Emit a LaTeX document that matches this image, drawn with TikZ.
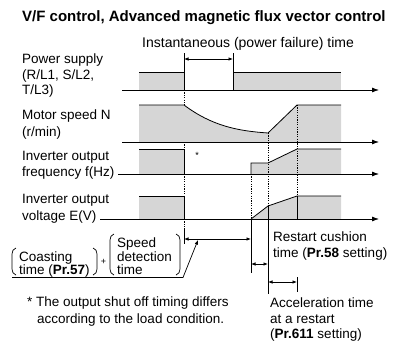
\documentclass[tikz,border=0pt]{standalone}
\usepackage{fontspec}
\setmainfont{Liberation Sans}
\usetikzlibrary{arrows.meta}
\definecolor{fillg}{HTML}{D6D6D6}
\begin{document}
\begin{tikzpicture}[x=1pt,y=-1pt,
  lbl/.style={anchor=base west,inner sep=0pt,font=\fontsize{13.5}{15}\selectfont},
  ttl/.style={anchor=base west,inner sep=0pt,font=\fontsize{15}{17}\selectfont\bfseries},
  sig/.style={fill=fillg,draw=none},
  edge/.style={draw=black,line width=0.8pt},
  dotl/.style={draw=black,line width=0.6pt,dash pattern=on 1.2pt off 1.2pt},
  axis/.style={draw=black,line width=0.8pt,-{Latex[length=7pt,width=5pt]}},
  dim/.style={draw=black,line width=0.7pt,{Latex[length=4.5pt,width=3.5pt]}-{Latex[length=4.5pt,width=3.5pt]}},
  thin/.style={draw=black,line width=0.7pt},
  paren/.style={draw=black,line width=0.7pt}]
\useasboundingbox (0,0) rectangle (393,343);

% title and labels
\node[ttl] (title) at (22,21) {V/F control, Advanced magnetic flux vector control};
\node[lbl,font=\fontsize{14}{15}\selectfont] (inst) at (142,47) {Instantaneous (power failure) time};
\node[lbl] (ps1) at (22,63) {Power supply};
\node[lbl] (ps2) at (22,79) {(R/L1, S/L2,};
\node[lbl] (ps3) at (22,94) {T/L3)};
\node[lbl] (ms1) at (22,119) {Motor speed N};
\node[lbl] (ms2) at (22,136.5) {(r/min)};
\node[lbl] (fr1) at (22,160) {Inverter output};
\node[lbl] (fr2) at (22,176) {frequency f(Hz)};
\node[lbl] (vo1) at (22,203) {Inverter output};
\node[lbl] (vo2) at (22,220.5) {voltage E(V)};

% coordinates
\coordinate (ax1s) at (122,90);  \coordinate (ax1e) at (379,90);
\coordinate (ax2s) at (122,142); \coordinate (ax2e) at (379,142);
\coordinate (ax3s) at (118,174); \coordinate (ax3e) at (379,174);
\coordinate (ax4s) at (100,219); \coordinate (ax4e) at (379,219);

% power supply
\fill[sig] (139,72) rectangle (184,90);
\fill[sig] (233,72) rectangle (341,90);
\draw[edge] (139,72) -- (184,72) -- (184,90);
\draw[edge] (233,90) -- (233,72) -- (341,72);
\draw[thin] (184,53) -- (184,72);
\draw[thin] (233,53) -- (233,72);
\coordinate (pfa) at (184,59); \coordinate (pfb) at (233,59);
\draw[dim] (pfa) -- (pfb);

% motor speed
\fill[sig] (139,142) -- (139,105) -- (184,105)
  .. controls (212,126) and (238,131) .. (268,133) -- (297,105) -- (341,105) -- (341,142) -- cycle;
\draw[edge] (139,105) -- (184,105)
  .. controls (212,126) and (238,131) .. (268,133) -- (297,105) -- (341,105);

% frequency
\fill[sig] (139,149) rectangle (184,174);
\fill[sig] (251,174) -- (251,163) -- (268,163) -- (297,149) -- (341,149) -- (341,174) -- cycle;
\draw[edge] (139,149) -- (184,149) -- (184,174);
\draw[edge] (251,174) -- (251,163) -- (268,163) -- (297,149) -- (341,149);
\node[inner sep=0pt,font=\fontsize{9}{9}\selectfont] (ast) at (197,155) {*};

% voltage
\fill[sig] (139,196) rectangle (184,219);
\fill[sig] (251,219) -- (268,206) -- (297,196) -- (341,196) -- (341,219) -- cycle;
\draw[edge] (139,196) -- (184,196) -- (184,219);
\draw[edge] (251,219) -- (268,206) -- (297,196) -- (341,196);
\draw[edge] (297,196) -- (297,219);

% axes
\draw[axis] (ax1s) -- (ax1e);
\draw[axis] (ax2s) -- (ax2e);
\draw[axis] (ax3s) -- (ax3e);
\draw[axis] (ax4s) -- (ax4e);

% dotted guides
\draw[dotl] (184,90) -- (184,105);
\draw[dotl] (184,142) -- (184,149);
\draw[dotl] (184,174) -- (184,196);
\draw[dotl] (184,219) -- (184,228);
\draw[dotl] (268,133) -- (268,206);
\draw[dotl] (297,105) -- (297,196);
\draw[dotl] (251,174) -- (251,219);

% solid extension lines
\draw[thin] (184,228) -- (184,244);
\draw[thin] (251,219) -- (251,273);
\draw[thin] (268,206) -- (268,294);
\draw[thin] (297,277) -- (297,292);

% dimension arrows
\coordinate (d1a) at (184,239); \coordinate (d1b) at (251,239);
\draw[dim] (d1a) -- (d1b);
\coordinate (d2a) at (251,264); \coordinate (d2b) at (268,264);
\draw[dim] (d2a) -- (d2b);
\coordinate (d3a) at (268,282); \coordinate (d3b) at (297,282);
\draw[dim] (d3a) -- (d3b);

% restart cushion text
\node[lbl] (rc1) at (273,241) {Restart cushion};
\node[lbl] (rc2) at (273,257.5) {time (\textbf{Pr.58} setting)};

% coasting group
\draw[paren] (16,248) to[out=195,in=90] (12,254) -- (12,269) to[out=-90,in=165] (16,275);
\draw[paren] (93,248) to[out=-15,in=90] (97,254) -- (97,269) to[out=-90,in=15] (93,275);
\draw[paren] (114,234) to[out=195,in=90] (110,240) -- (110,269) to[out=-90,in=165] (114,275);
\draw[paren] (176,234) to[out=-15,in=90] (180,240) -- (180,269) to[out=-90,in=15] (176,275);
\node[lbl] (co1) at (19,261.5) {Coasting};
\node[lbl] (co2) at (19,274.5) {time (\textbf{Pr.57})};
\node[inner sep=0pt,font=\fontsize{9}{9}\selectfont] (plus) at (103.5,262) {+};
\node[lbl] (sd1) at (117,247) {Speed};
\node[lbl] (sd2) at (117,261.5) {detection};
\node[lbl] (sd3) at (117,274.5) {time};
\coordinate (bl0) at (12,277.5);
\coordinate (bl1) at (183,277.5);
\coordinate (ldr) at (198,240);
\draw[thin,-{Latex[length=4.5pt,width=3.5pt]}] (bl0) -- (bl1) -- (ldr);

% footnote
\node[lbl] (fn1) at (27,306.5) {* The output shut off timing differs};
\node[lbl] (fn2) at (37,323.5) {according to the load condition.};

% acceleration text
\node[lbl] (ac1) at (270,307) {Acceleration time};
\node[lbl] (ac2) at (270,323) {at a restart};
\node[lbl] (ac3) at (270,338) {(\textbf{Pr.611} setting)};
\end{tikzpicture}
\end{document}
